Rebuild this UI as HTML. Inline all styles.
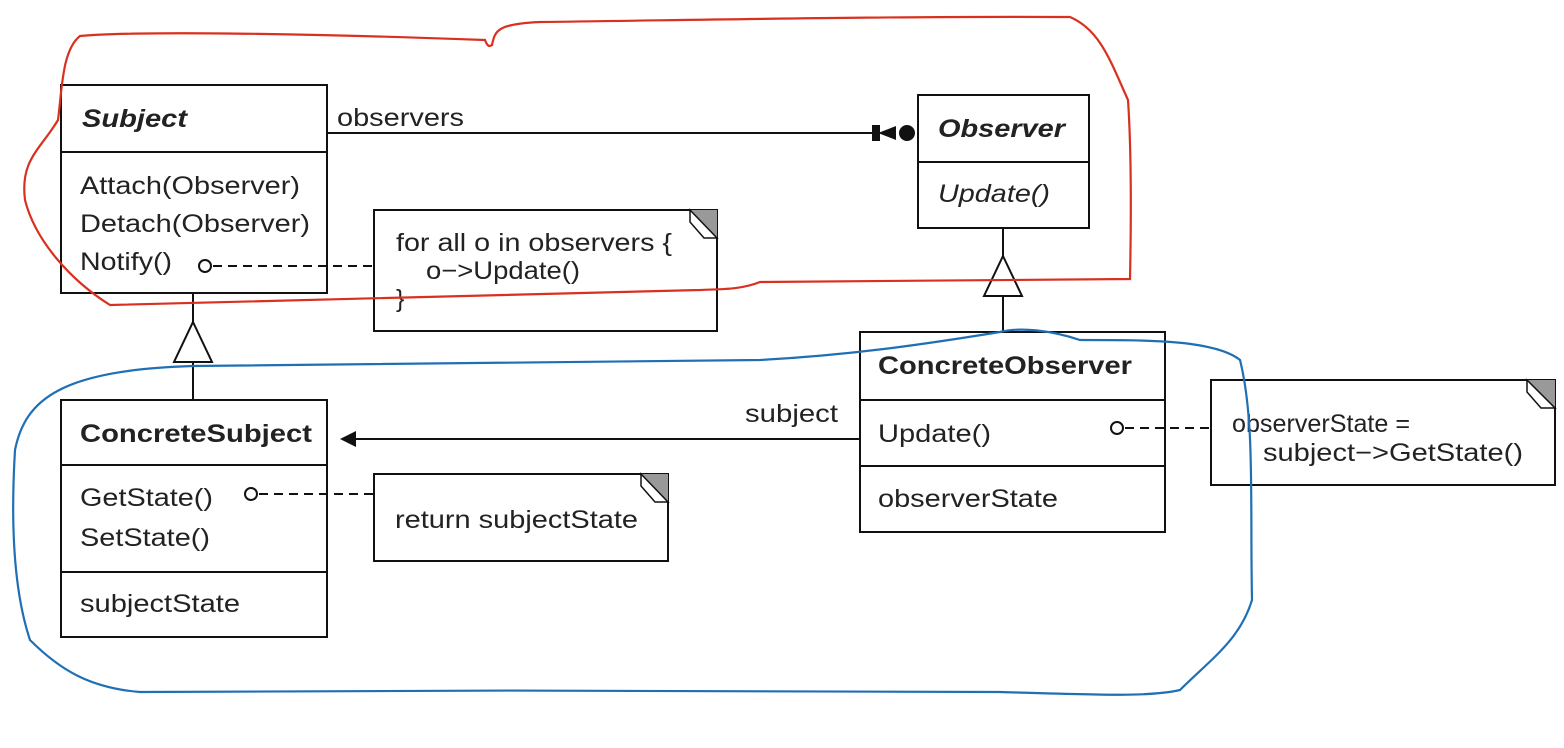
<!DOCTYPE html>
<html><head><meta charset="utf-8"><style>
html,body{margin:0;padding:0;background:#fff;}
svg{display:block;}
text{font-family:"Liberation Sans",sans-serif;font-size:25px;fill:#222;}
.b{font-weight:bold;}
.i{font-style:italic;}
</style></head><body>
<svg width="1564" height="748" viewBox="0 0 1564 748" xmlns="http://www.w3.org/2000/svg">
<g stroke="#111" stroke-width="2" fill="none">
<rect x="61" y="85" width="266" height="208"/>
<line x1="61" y1="152" x2="327" y2="152"/>
<rect x="918" y="95" width="171" height="133"/>
<line x1="918" y1="162" x2="1089" y2="162"/>
<path d="M374 210 H717 V331 H374 Z"/>
<rect x="61" y="400" width="266" height="237"/>
<line x1="61" y1="465" x2="327" y2="465"/>
<line x1="61" y1="572" x2="327" y2="572"/>
<rect x="860" y="332" width="305" height="200"/>
<line x1="860" y1="400" x2="1165" y2="400"/>
<line x1="860" y1="466" x2="1165" y2="466"/>
<rect x="374" y="474" width="294" height="87"/>
<rect x="1211" y="380" width="344" height="105"/>
<line x1="327" y1="133" x2="880" y2="133"/>
<line x1="355" y1="439" x2="860" y2="439"/>
<line x1="193" y1="293" x2="193" y2="322"/>
<line x1="193" y1="362" x2="193" y2="400"/>
<line x1="1003" y1="228" x2="1003" y2="256"/>
<line x1="1003" y1="296" x2="1003" y2="332"/>
<g stroke-dasharray="9,6">
<line x1="213" y1="266" x2="374" y2="266"/>
<line x1="259" y1="494" x2="374" y2="494"/>
<line x1="1125" y1="428" x2="1211" y2="428"/>
</g>
<circle cx="205" cy="266" r="6"/>
<circle cx="251" cy="494" r="6"/>
<circle cx="1117" cy="428" r="6"/>
<path d="M193 322 L212 362 L174 362 Z" fill="#fff"/>
<path d="M1003 256 L1022 296 L984 296 Z" fill="#fff"/>
</g>
<path d="M690 210 H717 V238 Z" fill="#999"/>
<path d="M690 210 L717 238 L704 238 L690 222 Z" fill="#fff" stroke="#111" stroke-width="1.5"/>
<path d="M641 474 H668 V502 Z" fill="#999"/>
<path d="M641 474 L668 502 L655 502 L641 486 Z" fill="#fff" stroke="#111" stroke-width="1.5"/>
<path d="M1527 380 H1555 V408 Z" fill="#999"/>
<path d="M1527 380 L1555 408 L1541 408 L1527 392 Z" fill="#fff" stroke="#111" stroke-width="1.5"/>
<rect x="872" y="125" width="8" height="16" fill="#111"/>
<path d="M878 133 L896 126 L896 140 Z" fill="#111"/>
<circle cx="907" cy="133" r="8" fill="#111"/>
<path d="M340 439 L356 431 L356 447 Z" fill="#111"/>
<g>
<text x="82" y="127" class="b i" textLength="105" lengthAdjust="spacingAndGlyphs">Subject</text>
<text x="337" y="126" textLength="127" lengthAdjust="spacingAndGlyphs">observers</text>
<text x="80" y="194" textLength="220" lengthAdjust="spacingAndGlyphs">Attach(Observer)</text>
<text x="80" y="232" textLength="230" lengthAdjust="spacingAndGlyphs">Detach(Observer)</text>
<text x="80" y="270" textLength="92" lengthAdjust="spacingAndGlyphs">Notify()</text>
<text x="396" y="251" textLength="276" lengthAdjust="spacingAndGlyphs">for all o in observers {</text>
<text x="426" y="279" textLength="154" lengthAdjust="spacingAndGlyphs">o−&gt;Update()</text>
<text x="396" y="307">}</text>
<text x="938" y="137" class="b i" textLength="127" lengthAdjust="spacingAndGlyphs">Observer</text>
<text x="938" y="202" class="i" textLength="112" lengthAdjust="spacingAndGlyphs">Update()</text>
<text x="80" y="442" class="b" textLength="232" lengthAdjust="spacingAndGlyphs">ConcreteSubject</text>
<text x="80" y="506" textLength="133" lengthAdjust="spacingAndGlyphs">GetState()</text>
<text x="80" y="546" textLength="130" lengthAdjust="spacingAndGlyphs">SetState()</text>
<text x="80" y="612" textLength="160" lengthAdjust="spacingAndGlyphs">subjectState</text>
<text x="395" y="528" textLength="243" lengthAdjust="spacingAndGlyphs">return subjectState</text>
<text x="745" y="422" textLength="93" lengthAdjust="spacingAndGlyphs">subject</text>
<text x="878" y="374" class="b" textLength="254" lengthAdjust="spacingAndGlyphs">ConcreteObserver</text>
<text x="878" y="442" textLength="113" lengthAdjust="spacingAndGlyphs">Update()</text>
<text x="878" y="507" textLength="180" lengthAdjust="spacingAndGlyphs">observerState</text>
<text x="1232" y="432" textLength="178" lengthAdjust="spacingAndGlyphs">observerState =</text>
<text x="1263" y="461" textLength="260" lengthAdjust="spacingAndGlyphs">subject−&gt;GetState()</text>
</g>
<path d="M110 305 C70 280 35 240 25 200 C20 160 40 150 58 120 C62 90 62 50 80 36 C150 30 350 35 485 40 C488 48 490 46 492 45 C495 30 498 24 540 22 C700 20 900 16 1070 17 C1100 30 1110 60 1128 100 C1132 160 1131 230 1130 279 L760 282 C740 290 720 289 700 290 C500 296 300 300 110 305 Z" fill="none" stroke="#d9301f" stroke-width="2.2"/>
<path d="M193 366 C400 365 600 362 760 360 C850 355 920 345 1000 332 C1020 327 1050 330 1080 340 C1150 340 1215 340 1240 360 C1255 420 1250 500 1252 600 C1240 640 1210 660 1180 690 C1150 697 1100 695 1000 692 C800 690 400 690 140 692 C90 688 60 670 30 640 C10 580 12 500 15 450 C25 400 60 370 193 366 Z" fill="none" stroke="#1f6fb5" stroke-width="2.2"/>
</svg>
</body></html>
